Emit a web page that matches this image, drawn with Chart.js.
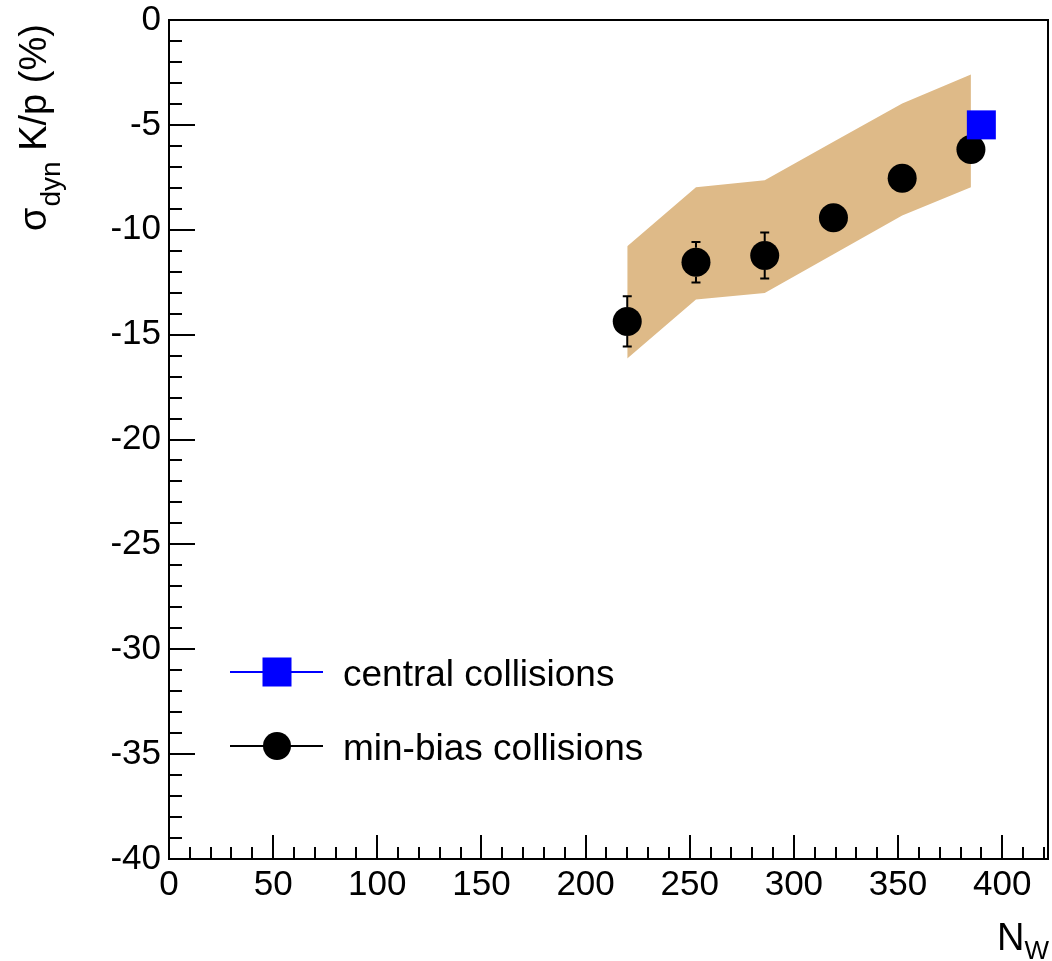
<!DOCTYPE html>
<html><head><meta charset="utf-8">
<script src="https://cdn.jsdelivr.net/npm/chart.js@4/dist/chart.umd.min.js"></script>
<style>html,body{margin:0;padding:0;background:#fff}</style>
</head><body>
<canvas id="c" width="1052" height="961"></canvas>
<script>
// ---- data ----
const nPart = [220, 253, 286, 319, 352, 385];
const minBias = [-14.37, -11.55, -11.23, -9.43, -7.54, -6.17];
const minBiasErr = [1.2, 0.97, 1.1, 0.6, 0.6, 0.6];
const sysUpper = [-10.79, -7.97, -7.64, -5.80, -3.98, -2.60];
const sysLower = [-16.14, -13.33, -13.01, -11.17, -9.32, -7.97];
const centralN = [390];
const centralVal = [-5.0];
const xTicks = [0, 50, 100, 150, 200, 250, 300, 350, 400];
const yTicks = [0, -5, -10, -15, -20, -25, -30, -35, -40];
const xMinorStep = 10;
const yMinorStep = 1;
const legendLabels = ['central collisions', 'min-bias collisions'];

const F = '"Liberation Sans", Arial, Helvetica, sans-serif';
const BAND = 'rgb(222,186,136)';

const pts = (xs, ys) => xs.map((x, i) => ({x: x, y: ys[i]}));

const framePlugin = {
  id: 'frame',
  afterDatasetsDraw(chart) {
    const ctx = chart.ctx, xs = chart.scales.x, ys = chart.scales.y;
    const R = 14.5;
    ctx.save();
    ctx.strokeStyle = '#000';
    ctx.lineWidth = 2;
    nPart.forEach((n, i) => {
      const px = xs.getPixelForValue(n);
      const py = ys.getPixelForValue(minBias[i]);
      const top = ys.getPixelForValue(minBias[i] + minBiasErr[i]);
      const bot = ys.getPixelForValue(minBias[i] - minBiasErr[i]);
      ctx.beginPath();
      if (py - top > R) {
        ctx.moveTo(px, py - R); ctx.lineTo(px, top);
        ctx.moveTo(px - 4.5, top); ctx.lineTo(px + 4.5, top);
      }
      if (bot - py > R) {
        ctx.moveTo(px, py + R); ctx.lineTo(px, bot);
        ctx.moveTo(px - 4.5, bot); ctx.lineTo(px + 4.5, bot);
      }
      ctx.stroke();
    });
    ctx.restore();
  },
  afterDraw(chart) {
    const ctx = chart.ctx, a = chart.chartArea, xs = chart.scales.x, ys = chart.scales.y;
    ctx.save();
    ctx.strokeStyle = '#000';
    ctx.lineWidth = 2;
    ctx.beginPath();
    ctx.rect(a.left, a.top, a.right - a.left, a.bottom - a.top);
    ctx.stroke();
    // y ticks
    ctx.beginPath();
    for (let v = ys.min; v <= ys.max + 1e-9; v += yMinorStep) {
      const py = Math.round(ys.getPixelForValue(v));
      const major = yTicks.some(t => Math.abs(t - v) < 1e-6);
      ctx.moveTo(a.left, py); ctx.lineTo(a.left + (major ? 26 : 13), py);
    }
    // x ticks
    for (let v = xs.min; v <= xs.max + 1e-9; v += xMinorStep) {
      const px = Math.round(xs.getPixelForValue(v));
      const major = xTicks.some(t => Math.abs(t - v) < 1e-6);
      ctx.moveTo(px, a.bottom); ctx.lineTo(px, a.bottom - (major ? 24 : 12));
    }
    ctx.stroke();

    // legend
    const ds = chart.data.datasets;
    const lx0 = 230, lx1 = 323, lcx = 277, tx = 343;
    const rows = [{y: 672, ds: ds[3]}, {y: 746, ds: ds[2]}];
    rows.forEach((r, k) => {
      ctx.strokeStyle = r.ds.borderColor;
      ctx.lineWidth = 2;
      ctx.beginPath(); ctx.moveTo(lx0, r.y); ctx.lineTo(lx1, r.y); ctx.stroke();
      ctx.fillStyle = r.ds.backgroundColor;
      if (r.ds.pointStyle === 'rect') {
        ctx.fillRect(lcx - 14.5, r.y - 14.5, 29, 29);
      } else {
        ctx.beginPath(); ctx.arc(lcx, r.y, 14, 0, Math.PI * 2); ctx.fill();
      }
      ctx.fillStyle = '#000';
      ctx.font = '37px ' + F;
      ctx.textBaseline = 'alphabetic';
      ctx.textAlign = 'left';
      ctx.fillText(legendLabels[k], tx, r.y + 14);
    });

    // x title N_W
    ctx.fillStyle = '#000';
    ctx.textAlign = 'left';
    ctx.textBaseline = 'alphabetic';
    ctx.font = '38px ' + F;
    ctx.fillText('N', 997, 950);
    const nw = ctx.measureText('N').width;
    ctx.font = '26px ' + F;
    ctx.fillText('W', 997 + nw, 959);

    // y title
    ctx.save();
    ctx.translate(46, 231);
    ctx.rotate(-Math.PI / 2);
    ctx.font = '38px ' + F;
    ctx.fillText('σ', 0, 0);
    let w = ctx.measureText('σ').width;
    ctx.font = '28px ' + F;
    ctx.fillText('dyn', w + 1, 14);
    w += 1 + ctx.measureText('dyn').width;
    ctx.font = '38px ' + F;
    ctx.fillText(' K/p (%)', w, 0);
    ctx.restore();

    ctx.restore();
  }
};

new Chart(document.getElementById('c'), {
  type: 'scatter',
  data: {
    datasets: [
      {label: 'sys upper', data: pts(nPart, sysUpper), showLine: true, fill: '+1',
       backgroundColor: BAND, borderColor: BAND, borderWidth: 0, pointRadius: 0, tension: 0, order: 4},
      {label: 'sys lower', data: pts(nPart, sysLower), showLine: true, fill: false,
       backgroundColor: BAND, borderColor: BAND, borderWidth: 0, pointRadius: 0, tension: 0, order: 3},
      {label: 'min-bias collisions', data: pts(nPart, minBias), showLine: false,
       pointStyle: 'circle', pointRadius: 14.5, backgroundColor: '#000', borderColor: '#000', borderWidth: 0, order: 2},
      {label: 'central collisions', data: pts(centralN, centralVal), showLine: false,
       pointStyle: 'rect', pointRadius: 20.5, backgroundColor: '#0000ff', borderColor: '#0000ff', borderWidth: 0, order: 1}
    ]
  },
  options: {
    responsive: false,
    animation: false,
    events: [],
    layout: {autoPadding: false, padding: {top: 20, right: 4, left: 0, bottom: 0}},
    plugins: {legend: {display: false}, tooltip: {enabled: false}},
    scales: {
      x: {
        type: 'linear', position: 'bottom', min: 0, max: 422,
        grid: {display: false, drawTicks: false}, border: {display: false},
        ticks: {font: {family: F, size: 35}, color: '#000', padding: 5, autoSkip: false, maxRotation: 0,
                callback: v => String(v)},
        afterBuildTicks: s => { s.ticks = xTicks.map(v => ({value: v})); },
        afterFit: s => { s.height = 102; s.paddingLeft = 0; s.paddingRight = 0; }
      },
      y: {
        type: 'linear', position: 'left', min: -40, max: 0,
        grid: {display: false, drawTicks: false}, border: {display: false},
        ticks: {font: {family: F, size: 35}, color: '#000', padding: 8, autoSkip: false,
                callback: v => String(v)},
        afterBuildTicks: s => { s.ticks = yTicks.map(v => ({value: v})); },
        afterFit: s => { s.width = 169; s.paddingTop = 0; s.paddingBottom = 0; }
      }
    }
  },
  plugins: [framePlugin]
});
</script>
</body></html>
